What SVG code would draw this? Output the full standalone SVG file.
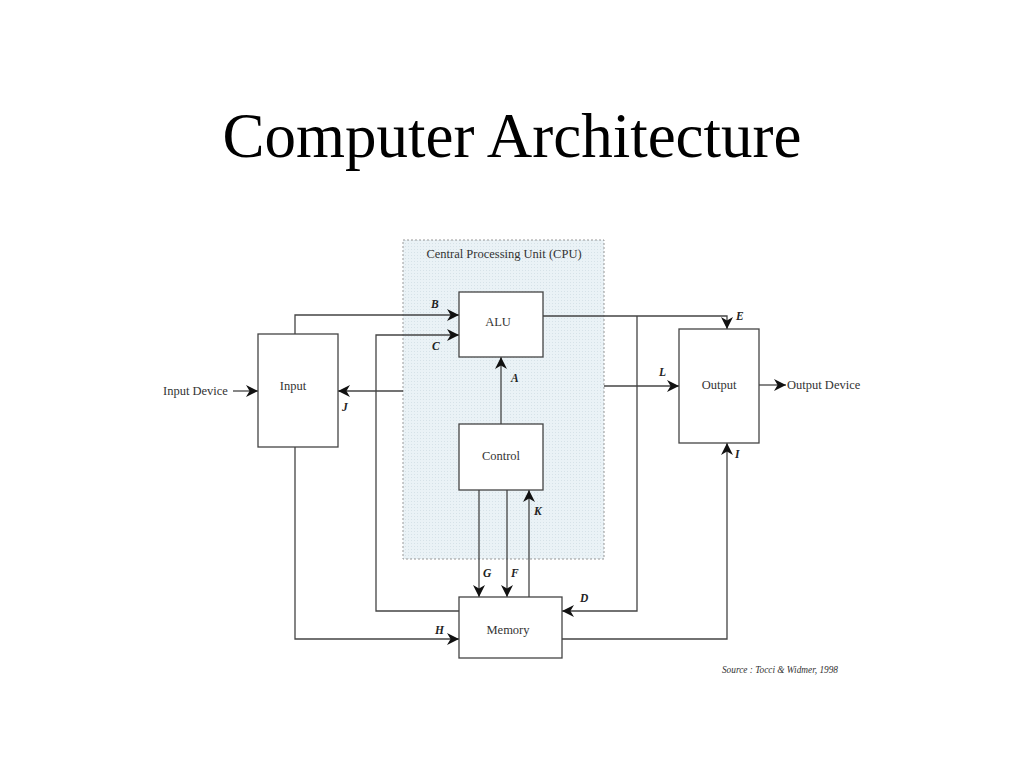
<svg xmlns="http://www.w3.org/2000/svg" width="1024" height="768" viewBox="0 0 1024 768">
<defs>
<style>
.box{fill:#fff;stroke:#444;stroke-width:1.3}
.ln{fill:none;stroke:#444;stroke-width:1.3}
.t{font-family:"Liberation Serif","Times New Roman",serif;font-size:12.5px;fill:#333}
.lb{font-family:"Liberation Serif","Times New Roman",serif;font-size:11.5px;font-weight:bold;font-style:italic;fill:#222}
</style>
<pattern id="dots" width="3" height="3" patternUnits="userSpaceOnUse">
<rect width="3" height="3" fill="#eaf2f6"/>
<rect width="1" height="1" fill="#d6e2e8"/>
</pattern>
<marker id="ar" viewBox="0 0 10 10" refX="10" refY="5" markerWidth="12" markerHeight="12" markerUnits="userSpaceOnUse" orient="auto">
<path d="M0,0 L10,5 L0,10 L3,5 Z" fill="#111"/>
</marker>
</defs>
<rect width="1024" height="768" fill="#fff"/>
<text x="512" y="157" text-anchor="middle" font-family="Liberation Serif,'Times New Roman',serif" font-size="63" fill="#000">Computer Architecture</text>

<g id="cpu">
<rect x="403" y="240" width="201" height="319" fill="url(#dots)" stroke="#999" stroke-width="1" stroke-dasharray="2,2"/>
<text class="t" x="504" y="258" text-anchor="middle">Central Processing Unit (CPU)</text>
</g>

<g id="connectors">
<path class="ln" d="M295,334 V315 H459" marker-end="url(#ar)"/>
<path class="ln" d="M459,611 H376 V335 H459" marker-end="url(#ar)"/>
<path class="ln" d="M403,391 H338" marker-end="url(#ar)"/>
<path class="ln" d="M501,424 V357" marker-end="url(#ar)"/>
<path class="ln" d="M543,316 H727 V329" marker-end="url(#ar)"/>
<path class="ln" d="M637,316 V611 H562" marker-end="url(#ar)"/>
<path class="ln" d="M604,386 H679" marker-end="url(#ar)"/>
<path class="ln" d="M759,385 H786" marker-end="url(#ar)"/>
<path class="ln" d="M233,391 H258" marker-end="url(#ar)"/>
<path class="ln" d="M562,639 H727 V443" marker-end="url(#ar)"/>
<path class="ln" d="M295,447 V639 H459" marker-end="url(#ar)"/>
<path class="ln" d="M479,490 V597" marker-end="url(#ar)"/>
<path class="ln" d="M507,490 V597" marker-end="url(#ar)"/>
<path class="ln" d="M529,597 V490" marker-end="url(#ar)"/>
<text class="lb" x="431" y="308">B</text>
<text class="lb" x="432" y="350">C</text>
<text class="lb" x="342" y="411">J</text>
<text class="lb" x="511" y="382">A</text>
<text class="lb" x="736" y="320">E</text>
<text class="lb" x="580" y="602">D</text>
<text class="lb" x="659" y="376">L</text>
<text class="lb" x="735" y="458">I</text>
<text class="lb" x="435" y="634">H</text>
<text class="lb" x="483" y="577">G</text>
<text class="lb" x="511" y="577">F</text>
<text class="lb" x="534" y="515">K</text>
</g>

<g id="alu"><rect class="box" x="459" y="292" width="84" height="65"/><text class="t" x="498" y="326" text-anchor="middle">ALU</text></g>
<g id="control"><rect class="box" x="459" y="424" width="84" height="66"/><text class="t" x="501" y="460" text-anchor="middle">Control</text></g>
<g id="input"><rect class="box" x="258" y="334" width="80" height="113"/><text class="t" x="293" y="390" text-anchor="middle">Input</text></g>
<g id="output"><rect class="box" x="679" y="329" width="80" height="114"/><text class="t" x="719" y="389" text-anchor="middle">Output</text></g>
<g id="memory"><rect class="box" x="459" y="597" width="103" height="61"/><text class="t" x="508" y="634" text-anchor="middle">Memory</text></g>
<g id="input-device"><text class="t" x="163" y="395">Input Device</text></g>
<g id="output-device"><text class="t" x="787" y="389">Output Device</text></g>
<text x="838" y="673" text-anchor="end" font-family="Liberation Serif,'Times New Roman',serif" font-size="9.3" font-style="italic" fill="#333">Source : Tocci &amp; Widmer, 1998</text>
</svg>
